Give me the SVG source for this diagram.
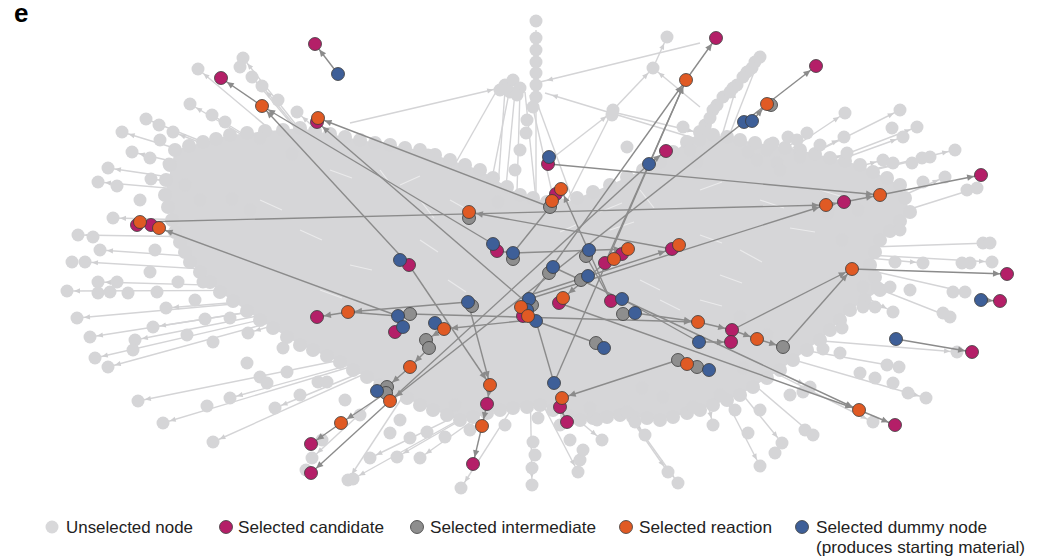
<svg xmlns="http://www.w3.org/2000/svg" width="1037" height="560" viewBox="0 0 1037 560">
<defs>
<style>
.gl line{stroke:#d4d4d6;stroke-width:1.4;marker-end:url(#al)}
.gl line.na{marker-end:none}
.gn circle{fill:#d5d5d7}
.ws line{stroke:#ffffff;stroke-width:1.2;opacity:0.5}
.dl line{stroke:#8b8b8b;stroke-width:1.4;marker-end:url(#ad)}
.dl line.na{marker-end:none}
.n circle{stroke:#3b3b3b;stroke-width:0.8}
.cand{fill:#b41f68}
.int{fill:#8e8e8e}
.rea{fill:#e05a24}
.dum{fill:#3e5f98}
.uns{fill:#d8d8da}
.lg{font-family:"Liberation Sans",Arial,sans-serif;font-size:16.5px;fill:#222222}
</style>
<marker id="ad" viewBox="-8 -4 16 8" refX="7" refY="0" markerWidth="16" markerHeight="8" markerUnits="userSpaceOnUse" orient="auto"><path d="M-7,-3.2 L0,0 L-7,3.2 z" fill="#8b8b8b"/></marker>
<marker id="al" viewBox="-8 -4 16 8" refX="7" refY="0" markerWidth="16" markerHeight="8" markerUnits="userSpaceOnUse" orient="auto"><path d="M-6,-2.6 L0,0 L-6,2.6 z" fill="#cfcfd1"/></marker>
</defs>
<rect width="1037" height="560" fill="#ffffff"/>
<text x="14" y="22" font-family="Liberation Sans,Arial,sans-serif" font-size="26" font-weight="bold" fill="#000">e</text>

<g id="background-cloud">
<g class="gl">
<line x1="360" y1="205" x2="198" y2="69"/><line x1="360" y1="205" x2="243" y2="58"/><line x1="360" y1="205" x2="252" y2="77"/><line x1="360" y1="205" x2="262" y2="86"/><line x1="360" y1="205" x2="190" y2="104"/><line x1="360" y1="205" x2="212" y2="115"/><line x1="360" y1="205" x2="146" y2="119"/><line x1="360" y1="205" x2="173" y2="132"/><line x1="360" y1="205" x2="122" y2="132"/><line x1="360" y1="205" x2="132" y2="152"/><line x1="360" y1="205" x2="108" y2="168"/><line x1="360" y1="205" x2="98" y2="182"/><line x1="360" y1="205" x2="151" y2="179"/><line x1="360" y1="205" x2="260" y2="138"/><line x1="360" y1="205" x2="292" y2="154"/><line x1="400" y1="215" x2="232" y2="199"/><line x1="400" y1="215" x2="200" y2="200"/><line x1="400" y1="225" x2="113" y2="218"/><line x1="400" y1="240" x2="78" y2="235"/><line x1="400" y1="205" x2="297" y2="112"/>
<line x1="390" y1="290" x2="67" y2="291"/><line x1="390" y1="290" x2="98" y2="282"/><line x1="390" y1="290" x2="203" y2="282"/><line x1="390" y1="290" x2="77" y2="318"/><line x1="390" y1="290" x2="166" y2="308"/><line x1="390" y1="290" x2="90" y2="337"/><line x1="390" y1="290" x2="153" y2="327"/><line x1="390" y1="290" x2="95" y2="358"/><line x1="390" y1="290" x2="108" y2="367"/><line x1="390" y1="290" x2="135" y2="340"/><line x1="390" y1="290" x2="248" y2="333"/><line x1="390" y1="280" x2="85" y2="262"/><line x1="390" y1="270" x2="100" y2="250"/>
<line x1="440" y1="340" x2="138" y2="401"/><line x1="440" y1="340" x2="163" y2="423"/><line x1="440" y1="340" x2="213" y2="442"/><line x1="440" y1="340" x2="312" y2="458"/><line x1="440" y1="340" x2="348" y2="480"/><line x1="440" y1="340" x2="230" y2="398"/><line x1="440" y1="340" x2="275" y2="408"/>
<line x1="530" y1="380" x2="370" y2="458"/><line x1="530" y1="380" x2="353" y2="479"/><line x1="530" y1="380" x2="397" y2="457"/><line x1="530" y1="380" x2="420" y2="458"/><line x1="530" y1="380" x2="461" y2="488"/><line x1="530" y1="380" x2="532" y2="485"/><line x1="530" y1="380" x2="578" y2="472"/><line x1="530" y1="380" x2="602" y2="440"/><line x1="590" y1="360" x2="668" y2="472"/><line x1="590" y1="360" x2="678" y2="483"/><line x1="590" y1="360" x2="693" y2="407"/><line x1="590" y1="360" x2="645" y2="435"/>
<line x1="690" y1="330" x2="713" y2="425"/><line x1="690" y1="330" x2="760" y2="466"/><line x1="690" y1="330" x2="782" y2="443"/><line x1="690" y1="330" x2="813" y2="435"/><line x1="690" y1="330" x2="810" y2="387"/><line x1="690" y1="330" x2="873" y2="422"/><line x1="690" y1="330" x2="926" y2="398"/><line x1="690" y1="330" x2="899" y2="367"/><line x1="690" y1="330" x2="957" y2="352"/><line x1="690" y1="330" x2="842" y2="328"/>
<line x1="780" y1="250" x2="992" y2="262"/><line x1="780" y1="250" x2="923" y2="263"/><line x1="780" y1="250" x2="965" y2="292"/><line x1="780" y1="250" x2="890" y2="287"/><line x1="780" y1="250" x2="893" y2="312"/><line x1="780" y1="250" x2="950" y2="317"/><line x1="780" y1="250" x2="990" y2="243"/><line x1="780" y1="250" x2="977" y2="188"/><line x1="780" y1="250" x2="945" y2="177"/><line x1="780" y1="250" x2="858" y2="210"/>
<line x1="700" y1="210" x2="760" y2="57"/><line x1="700" y1="210" x2="737" y2="85"/><line x1="700" y1="210" x2="713" y2="110"/><line x1="680" y1="220" x2="700" y2="140"/><line x1="700" y1="210" x2="845" y2="113"/><line x1="700" y1="210" x2="900" y2="110"/><line x1="700" y1="210" x2="917" y2="127"/><line x1="700" y1="210" x2="903" y2="137"/><line x1="700" y1="210" x2="844" y2="137"/><line x1="700" y1="210" x2="807" y2="133"/><line x1="700" y1="210" x2="847" y2="153"/><line x1="700" y1="210" x2="955" y2="150"/><line x1="700" y1="210" x2="930" y2="157"/><line x1="700" y1="210" x2="883" y2="160"/>
<line x1="350" y1="123" x2="500" y2="88"/><line x1="700" y1="43" x2="540" y2="82"/><line x1="700" y1="140" x2="545" y2="93"/><line x1="613" y1="110" x2="653" y2="68"/><line x1="700" y1="107" x2="653" y2="68"/><line x1="653" y1="68" x2="667" y2="37"/><line x1="617" y1="113" x2="700" y2="133"/><line x1="550" y1="160" x2="612" y2="112"/>
<line class="na" x1="510" y1="88" x2="470" y2="290"/><line class="na" x1="505" y1="90" x2="490" y2="300"/><line class="na" x1="515" y1="92" x2="500" y2="250"/><line class="na" x1="520" y1="90" x2="515" y2="260"/><line class="na" x1="525" y1="92" x2="540" y2="240"/><line class="na" x1="530" y1="95" x2="565" y2="250"/><line class="na" x1="536" y1="30" x2="536" y2="230"/><line class="na" x1="497" y1="90" x2="450" y2="173"/><line class="na" x1="428" y1="155" x2="470" y2="230"/><line class="na" x1="536" y1="100" x2="580" y2="220"/><line class="na" x1="613" y1="110" x2="560" y2="215"/>
</g>
<path d="M175,150 L230,135 L300,128 L360,140 L420,150 L480,170 L520,195 L560,205 L610,185 L660,162 L700,132 L740,140 L800,150 L860,165 L900,185 L910,212 L880,240 L870,265 L880,290 L850,310 L820,340 L780,370 L740,395 L700,410 L660,420 L620,415 L580,420 L540,405 L500,410 L460,420 L420,405 L380,385 L340,362 L300,345 L260,320 L220,292 L190,262 L175,232 L165,195 Z" fill="#d6d6d8"/>
<g class="gn">
<circle cx="175" cy="150" r="7"/><circle cx="189" cy="146" r="7"/><circle cx="203" cy="142" r="7"/><circle cx="216" cy="139" r="7"/><circle cx="230" cy="135" r="7"/><circle cx="247" cy="133" r="7"/><circle cx="265" cy="131" r="7"/><circle cx="283" cy="130" r="7"/><circle cx="300" cy="128" r="7"/><circle cx="315" cy="131" r="7"/><circle cx="330" cy="134" r="7"/><circle cx="345" cy="137" r="7"/><circle cx="360" cy="140" r="7"/><circle cx="375" cy="143" r="7"/><circle cx="390" cy="145" r="7"/><circle cx="405" cy="148" r="7"/><circle cx="420" cy="150" r="7"/><circle cx="435" cy="155" r="7"/><circle cx="450" cy="160" r="7"/><circle cx="465" cy="165" r="7"/><circle cx="480" cy="170" r="7"/><circle cx="493" cy="178" r="7"/><circle cx="507" cy="187" r="7"/><circle cx="520" cy="195" r="7"/><circle cx="533" cy="198" r="7"/><circle cx="547" cy="202" r="7"/><circle cx="560" cy="205" r="7"/><circle cx="577" cy="198" r="7"/><circle cx="593" cy="192" r="7"/><circle cx="610" cy="185" r="7"/><circle cx="627" cy="177" r="7"/><circle cx="643" cy="170" r="7"/><circle cx="660" cy="162" r="7"/><circle cx="673" cy="152" r="7"/><circle cx="687" cy="142" r="7"/><circle cx="700" cy="132" r="7"/><circle cx="713" cy="135" r="7"/><circle cx="727" cy="137" r="7"/><circle cx="740" cy="140" r="7"/><circle cx="755" cy="143" r="7"/><circle cx="770" cy="145" r="7"/><circle cx="785" cy="148" r="7"/><circle cx="800" cy="150" r="7"/><circle cx="815" cy="154" r="7"/><circle cx="830" cy="158" r="7"/><circle cx="845" cy="161" r="7"/><circle cx="860" cy="165" r="7"/><circle cx="873" cy="172" r="7"/><circle cx="887" cy="178" r="7"/><circle cx="900" cy="185" r="7"/><circle cx="905" cy="198" r="7"/><circle cx="910" cy="212" r="7"/><circle cx="900" cy="221" r="7"/><circle cx="890" cy="231" r="7"/><circle cx="880" cy="240" r="7"/><circle cx="875" cy="252" r="7"/><circle cx="870" cy="265" r="7"/><circle cx="875" cy="277" r="7"/><circle cx="880" cy="290" r="7"/><circle cx="865" cy="300" r="7"/><circle cx="850" cy="310" r="7"/><circle cx="840" cy="320" r="7"/><circle cx="830" cy="330" r="7"/><circle cx="820" cy="340" r="7"/><circle cx="807" cy="350" r="7"/><circle cx="793" cy="360" r="7"/><circle cx="780" cy="370" r="7"/><circle cx="767" cy="378" r="7"/><circle cx="753" cy="387" r="7"/><circle cx="740" cy="395" r="7"/><circle cx="727" cy="400" r="7"/><circle cx="713" cy="405" r="7"/><circle cx="700" cy="410" r="7"/><circle cx="687" cy="413" r="7"/><circle cx="673" cy="417" r="7"/><circle cx="660" cy="420" r="7"/><circle cx="647" cy="418" r="7"/><circle cx="633" cy="417" r="7"/><circle cx="620" cy="415" r="7"/><circle cx="607" cy="417" r="7"/><circle cx="593" cy="418" r="7"/><circle cx="580" cy="420" r="7"/><circle cx="567" cy="415" r="7"/><circle cx="553" cy="410" r="7"/><circle cx="540" cy="405" r="7"/><circle cx="527" cy="407" r="7"/><circle cx="513" cy="408" r="7"/><circle cx="500" cy="410" r="7"/><circle cx="487" cy="413" r="7"/><circle cx="473" cy="417" r="7"/><circle cx="460" cy="420" r="7"/><circle cx="447" cy="415" r="7"/><circle cx="433" cy="410" r="7"/><circle cx="420" cy="405" r="7"/><circle cx="407" cy="398" r="7"/><circle cx="393" cy="392" r="7"/><circle cx="380" cy="385" r="7"/><circle cx="367" cy="377" r="7"/><circle cx="353" cy="370" r="7"/><circle cx="340" cy="362" r="7"/><circle cx="327" cy="356" r="7"/><circle cx="313" cy="350" r="7"/><circle cx="300" cy="345" r="7"/><circle cx="287" cy="337" r="7"/><circle cx="273" cy="328" r="7"/><circle cx="260" cy="320" r="7"/><circle cx="247" cy="311" r="7"/><circle cx="233" cy="301" r="7"/><circle cx="220" cy="292" r="7"/><circle cx="210" cy="282" r="7"/><circle cx="200" cy="272" r="7"/><circle cx="190" cy="262" r="7"/><circle cx="185" cy="252" r="7"/><circle cx="180" cy="242" r="7"/><circle cx="175" cy="232" r="7"/><circle cx="172" cy="220" r="7"/><circle cx="168" cy="207" r="7"/><circle cx="165" cy="195" r="7"/><circle cx="166" cy="180" r="7"/><circle cx="170" cy="165" r="7"/>
</g>
<g class="gn">
<circle cx="198" cy="69" r="6.5"/><circle cx="243" cy="58" r="6.5"/><circle cx="240" cy="67" r="6.5"/><circle cx="252" cy="77" r="6.5"/><circle cx="262" cy="86" r="6.5"/><circle cx="190" cy="104" r="6.5"/><circle cx="212" cy="115" r="6.5"/><circle cx="146" cy="119" r="6.5"/><circle cx="159" cy="125" r="6.5"/><circle cx="173" cy="132" r="6.5"/><circle cx="122" cy="132" r="6.5"/><circle cx="132" cy="152" r="6.5"/><circle cx="108" cy="168" r="6.5"/><circle cx="98" cy="182" r="6.5"/><circle cx="117" cy="186" r="6.5"/><circle cx="151" cy="179" r="6.5"/><circle cx="169" cy="164" r="6.5"/><circle cx="260" cy="138" r="6.5"/><circle cx="292" cy="154" r="6.5"/><circle cx="232" cy="199" r="6.5"/><circle cx="250" cy="210" r="6.5"/><circle cx="200" cy="200" r="6.5"/><circle cx="113" cy="218" r="6.5"/><circle cx="78" cy="235" r="6.5"/><circle cx="93" cy="237" r="6.5"/><circle cx="297" cy="112" r="6.5"/>
<circle cx="160" cy="140" r="6.5"/><circle cx="150" cy="158" r="6.5"/><circle cx="140" cy="200" r="6.5"/><circle cx="155" cy="250" r="6.5"/><circle cx="150" cy="272" r="6.5"/><circle cx="185" cy="185" r="6.5"/><circle cx="278" cy="100" r="6.5"/><circle cx="225" cy="122" r="6.5"/>
<circle cx="67" cy="291" r="6.5"/><circle cx="98" cy="282" r="6.5"/><circle cx="117" cy="282" r="6.5"/><circle cx="98" cy="293" r="6.5"/><circle cx="110" cy="292" r="6.5"/><circle cx="128" cy="293" r="6.5"/><circle cx="157" cy="292" r="6.5"/><circle cx="178" cy="282" r="6.5"/><circle cx="203" cy="282" r="6.5"/><circle cx="77" cy="318" r="6.5"/><circle cx="166" cy="308" r="6.5"/><circle cx="90" cy="337" r="6.5"/><circle cx="153" cy="327" r="6.5"/><circle cx="135" cy="340" r="6.5"/><circle cx="133" cy="350" r="6.5"/><circle cx="95" cy="358" r="6.5"/><circle cx="108" cy="367" r="6.5"/><circle cx="187" cy="335" r="6.5"/><circle cx="205" cy="319" r="6.5"/><circle cx="213" cy="342" r="6.5"/><circle cx="247" cy="363" r="6.5"/><circle cx="248" cy="333" r="6.5"/><circle cx="85" cy="262" r="6.5"/><circle cx="100" cy="250" r="6.5"/><circle cx="72" cy="262" r="6.5"/><circle cx="230" cy="318" r="6.5"/><circle cx="195" cy="300" r="6.5"/>
<circle cx="138" cy="401" r="6.5"/><circle cx="207" cy="406" r="6.5"/><circle cx="230" cy="398" r="6.5"/><circle cx="163" cy="423" r="6.5"/><circle cx="213" cy="442" r="6.5"/><circle cx="275" cy="408" r="6.5"/><circle cx="260" cy="377" r="6.5"/><circle cx="267" cy="383" r="6.5"/><circle cx="287" cy="372" r="6.5"/><circle cx="283" cy="348" r="6.5"/><circle cx="318" cy="382" r="6.5"/><circle cx="327" cy="382" r="6.5"/><circle cx="312" cy="458" r="6.5"/><circle cx="348" cy="480" r="6.5"/><circle cx="306" cy="470" r="6.5"/><circle cx="322" cy="440" r="6.5"/><circle cx="300" cy="395" r="6.5"/><circle cx="345" cy="400" r="6.5"/><circle cx="360" cy="415" r="6.5"/>
<circle cx="370" cy="458" r="6.5"/><circle cx="353" cy="479" r="6.5"/><circle cx="397" cy="457" r="6.5"/><circle cx="420" cy="458" r="6.5"/><circle cx="410" cy="438" r="6.5"/><circle cx="390" cy="433" r="6.5"/><circle cx="427" cy="432" r="6.5"/><circle cx="445" cy="437" r="6.5"/><circle cx="461" cy="488" r="6.5"/><circle cx="532" cy="485" r="6.5"/><circle cx="532" cy="468" r="6.5"/><circle cx="533" cy="442" r="6.5"/><circle cx="538" cy="418" r="6.5"/><circle cx="570" cy="440" r="6.5"/><circle cx="578" cy="472" r="6.5"/><circle cx="580" cy="460" r="6.5"/><circle cx="583" cy="450" r="6.5"/><circle cx="602" cy="440" r="6.5"/><circle cx="597" cy="420" r="6.5"/><circle cx="627" cy="412" r="6.5"/><circle cx="635" cy="422" r="6.5"/><circle cx="645" cy="435" r="6.5"/><circle cx="668" cy="472" r="6.5"/><circle cx="678" cy="483" r="6.5"/><circle cx="642" cy="388" r="6.5"/><circle cx="663" cy="397" r="6.5"/><circle cx="693" cy="407" r="6.5"/><circle cx="470" cy="430" r="6.5"/><circle cx="455" cy="405" r="6.5"/><circle cx="505" cy="425" r="6.5"/><circle cx="560" cy="425" r="6.5"/><circle cx="590" cy="408" r="6.5"/><circle cx="535" cy="455" r="6.5"/><circle cx="400" cy="420" r="6.5"/>
<circle cx="713" cy="425" r="6.5"/><circle cx="748" cy="433" r="6.5"/><circle cx="760" cy="466" r="6.5"/><circle cx="775" cy="453" r="6.5"/><circle cx="782" cy="443" r="6.5"/><circle cx="805" cy="430" r="6.5"/><circle cx="813" cy="435" r="6.5"/><circle cx="803" cy="392" r="6.5"/><circle cx="810" cy="387" r="6.5"/><circle cx="873" cy="422" r="6.5"/><circle cx="926" cy="398" r="6.5"/><circle cx="908" cy="393" r="6.5"/><circle cx="893" cy="383" r="6.5"/><circle cx="875" cy="378" r="6.5"/><circle cx="860" cy="373" r="6.5"/><circle cx="887" cy="365" r="6.5"/><circle cx="899" cy="367" r="6.5"/><circle cx="840" cy="353" r="6.5"/><circle cx="823" cy="349" r="6.5"/><circle cx="957" cy="352" r="6.5"/><circle cx="842" cy="328" r="6.5"/><circle cx="743" cy="368" r="6.5"/><circle cx="767" cy="335" r="6.5"/><circle cx="740" cy="317" r="6.5"/><circle cx="720" cy="395" r="6.5"/><circle cx="760" cy="410" r="6.5"/><circle cx="735" cy="410" r="6.5"/><circle cx="790" cy="395" r="6.5"/>
<circle cx="992" cy="262" r="6.5"/><circle cx="970" cy="263" r="6.5"/><circle cx="962" cy="263" r="6.5"/><circle cx="923" cy="263" r="6.5"/><circle cx="953" cy="292" r="6.5"/><circle cx="965" cy="292" r="6.5"/><circle cx="890" cy="287" r="6.5"/><circle cx="877" cy="287" r="6.5"/><circle cx="863" cy="287" r="6.5"/><circle cx="863" cy="307" r="6.5"/><circle cx="875" cy="307" r="6.5"/><circle cx="893" cy="312" r="6.5"/><circle cx="950" cy="317" r="6.5"/><circle cx="943" cy="313" r="6.5"/><circle cx="983" cy="243" r="6.5"/><circle cx="990" cy="243" r="6.5"/><circle cx="967" cy="190" r="6.5"/><circle cx="977" cy="188" r="6.5"/><circle cx="923" cy="182" r="6.5"/><circle cx="945" cy="177" r="6.5"/><circle cx="858" cy="210" r="6.5"/><circle cx="828" cy="213" r="6.5"/><circle cx="842" cy="240" r="6.5"/><circle cx="900" cy="230" r="6.5"/><circle cx="895" cy="262" r="6.5"/><circle cx="910" cy="290" r="6.5"/>
<circle cx="760" cy="57" r="6.5"/><circle cx="755" cy="62" r="6.5"/><circle cx="752" cy="68" r="6.5"/><circle cx="747" cy="72" r="6.5"/><circle cx="743" cy="77" r="6.5"/><circle cx="737" cy="85" r="6.5"/><circle cx="733" cy="88" r="6.5"/><circle cx="723" cy="97" r="6.5"/><circle cx="717" cy="105" r="6.5"/><circle cx="713" cy="110" r="6.5"/><circle cx="705" cy="125" r="6.5"/><circle cx="703" cy="132" r="6.5"/><circle cx="700" cy="140" r="6.5"/><circle cx="845" cy="113" r="6.5"/><circle cx="900" cy="110" r="6.5"/><circle cx="917" cy="127" r="6.5"/><circle cx="892" cy="128" r="6.5"/><circle cx="903" cy="137" r="6.5"/><circle cx="844" cy="137" r="6.5"/><circle cx="807" cy="133" r="6.5"/><circle cx="788" cy="137" r="6.5"/><circle cx="797" cy="140" r="6.5"/><circle cx="773" cy="143" r="6.5"/><circle cx="767" cy="150" r="6.5"/><circle cx="748" cy="152" r="6.5"/><circle cx="847" cy="153" r="6.5"/><circle cx="800" cy="157" r="6.5"/><circle cx="955" cy="150" r="6.5"/><circle cx="930" cy="157" r="6.5"/><circle cx="922" cy="158" r="6.5"/><circle cx="912" cy="163" r="6.5"/><circle cx="883" cy="160" r="6.5"/><circle cx="893" cy="163" r="6.5"/><circle cx="777" cy="163" r="6.5"/><circle cx="780" cy="170" r="6.5"/><circle cx="757" cy="160" r="6.5"/><circle cx="697" cy="162" r="6.5"/><circle cx="710" cy="118" r="6.5"/><circle cx="730" cy="92" r="6.5"/><circle cx="690" cy="150" r="6.5"/><circle cx="820" cy="145" r="6.5"/>
<circle cx="536" cy="21" r="6.5"/><circle cx="536" cy="38" r="6.5"/><circle cx="536" cy="50" r="6.5"/><circle cx="536" cy="62" r="6.5"/><circle cx="536" cy="73" r="6.5"/><circle cx="536" cy="85" r="6.5"/><circle cx="536" cy="97" r="6.5"/><circle cx="533" cy="107" r="6.5"/><circle cx="527" cy="120" r="6.5"/><circle cx="526" cy="133" r="6.5"/><circle cx="520" cy="150" r="6.5"/><circle cx="505" cy="85" r="6.5"/><circle cx="513" cy="80" r="6.5"/><circle cx="520" cy="88" r="6.5"/><circle cx="510" cy="92" r="6.5"/><circle cx="500" cy="90" r="6.5"/><circle cx="517" cy="95" r="6.5"/><circle cx="667" cy="37" r="6.5"/><circle cx="653" cy="68" r="6.5"/><circle cx="613" cy="110" r="6.5"/><circle cx="612" cy="115" r="6.5"/><circle cx="428" cy="155" r="6.5"/><circle cx="498" cy="202" r="6.5"/><circle cx="627" cy="147" r="6.5"/><circle cx="683" cy="127" r="6.5"/><circle cx="515" cy="170" r="6.5"/>
</g>
<g class="ws">
<line x1="330" y1="170" x2="352" y2="178"/><line x1="400" y1="185" x2="420" y2="176"/><line x1="450" y1="200" x2="468" y2="210"/><line x1="600" y1="212" x2="622" y2="203"/><line x1="700" y1="190" x2="722" y2="182"/><line x1="760" y1="200" x2="784" y2="208"/><line x1="300" y1="230" x2="322" y2="240"/><line x1="420" y1="240" x2="438" y2="252"/><line x1="610" y1="230" x2="634" y2="222"/><line x1="700" y1="235" x2="722" y2="243"/><line x1="790" y1="228" x2="815" y2="232"/><line x1="350" y1="265" x2="372" y2="270"/><line x1="640" y1="280" x2="660" y2="290"/><line x1="720" y1="275" x2="742" y2="283"/><line x1="448" y1="280" x2="466" y2="292"/><line x1="700" y1="300" x2="722" y2="306"/><line x1="260" y1="200" x2="282" y2="210"/><line x1="560" y1="232" x2="578" y2="224"/><line x1="420" y1="200" x2="434" y2="218"/><line x1="640" y1="190" x2="654" y2="208"/><line x1="740" y1="250" x2="762" y2="262"/><line x1="320" y1="290" x2="342" y2="298"/><line x1="660" y1="300" x2="680" y2="310"/><line x1="380" y1="170" x2="395" y2="190"/><line x1="820" y1="190" x2="840" y2="196"/>
</g>
</g>

<g id="connectors" class="dl">
<line x1="338" y1="74" x2="315" y2="44"/>
<line x1="262" y1="106" x2="221" y2="78"/>
<line x1="493" y1="244" x2="262" y2="106"/>
<line x1="409" y1="265" x2="262" y2="106"/>
<line x1="409" y1="265" x2="490" y2="385"/>
<line x1="468" y1="302" x2="490" y2="385"/>
<line x1="550" y1="207" x2="318" y2="118"/>
<line x1="527" y1="303" x2="317" y2="122"/>
<line x1="398" y1="316" x2="159" y2="228"/>
<line x1="140" y1="222" x2="826" y2="205"/>
<line x1="549" y1="164" x2="880" y2="195"/>
<line x1="826" y1="205" x2="844" y2="202"/>
<line x1="844" y1="202" x2="880" y2="195"/>
<line x1="880" y1="195" x2="981" y2="175"/>
<line x1="672" y1="249" x2="469" y2="212"/>
<line x1="686" y1="80" x2="716" y2="38"/>
<line x1="554" y1="383" x2="686" y2="80"/>
<line x1="529" y1="299" x2="686" y2="80"/>
<line x1="649" y1="164" x2="686" y2="80"/>
<line x1="649" y1="164" x2="666" y2="151"/>
<line x1="649" y1="164" x2="311" y2="473"/>
<line x1="752" y1="121" x2="767" y2="104"/>
<line x1="767" y1="104" x2="816" y2="66"/>
<line x1="767" y1="104" x2="390" y2="401"/>
<line x1="852" y1="269" x2="1007" y2="274"/>
<line x1="981" y1="300" x2="1000" y2="301"/>
<line x1="896" y1="339" x2="972" y2="352"/>
<line x1="732" y1="330" x2="852" y2="269"/>
<line x1="783" y1="347" x2="852" y2="269"/>
<line x1="635" y1="313" x2="698" y2="322"/>
<line x1="698" y1="322" x2="732" y2="330"/>
<line x1="732" y1="330" x2="757" y2="339"/>
<line x1="757" y1="339" x2="783" y2="347"/>
<line x1="699" y1="342" x2="731" y2="342"/>
<line x1="553" y1="267" x2="859" y2="410"/>
<line x1="559" y1="303" x2="859" y2="410"/>
<line x1="859" y1="410" x2="895" y2="425"/>
<line x1="611" y1="301" x2="561" y2="189"/>
<line class="na" x1="586" y1="256" x2="611" y2="301"/>
<line x1="513" y1="253" x2="628" y2="249"/>
<line x1="513" y1="253" x2="497" y2="251"/>
<line class="na" x1="550" y1="207" x2="513" y2="253"/>
<line x1="468" y1="302" x2="348" y2="312"/>
<line x1="348" y1="312" x2="317" y2="317"/>
<line class="na" x1="398" y1="316" x2="348" y2="312"/>
<line x1="410" y1="314" x2="698" y2="322"/>
<line x1="530" y1="320" x2="444" y2="329"/>
<line x1="444" y1="329" x2="426" y2="340"/>
<line x1="429" y1="348" x2="410" y2="367"/>
<line x1="410" y1="367" x2="387" y2="387"/>
<line x1="386" y1="393" x2="341" y2="423"/>
<line x1="341" y1="423" x2="311" y2="444"/>
<line class="na" x1="536" y1="321" x2="554" y2="383"/>
<line x1="678" y1="360" x2="562" y2="398"/>
<line x1="560" y1="407" x2="567" y2="422"/>
<line x1="490" y1="385" x2="487" y2="404"/>
<line x1="487" y1="404" x2="482" y2="426"/>
<line x1="482" y1="426" x2="473" y2="464"/>
<line x1="530" y1="295" x2="672" y2="249"/>
<line x1="529" y1="299" x2="826" y2="205"/>
<line class="na" x1="536" y1="321" x2="596" y2="343"/>
<line class="na" x1="622" y1="299" x2="699" y2="342"/>
<line x1="605" y1="263" x2="563" y2="298"/>
<line class="na" x1="605" y1="263" x2="649" y2="164"/>
</g>

<g id="nodes">
<g id="i1" class="n"><circle class="int" cx="771" cy="105" r="6.5"/></g>
<g id="i2" class="n"><circle class="int" cx="550" cy="207" r="6.5"/></g>
<g id="i3" class="n"><circle class="int" cx="469" cy="218" r="6.5"/></g>
<g id="i4" class="n"><circle class="int" cx="513" cy="259" r="6.5"/></g>
<g id="i5" class="n"><circle class="int" cx="586" cy="256" r="6.5"/></g>
<g id="i6" class="n"><circle class="int" cx="549" cy="273" r="6.5"/></g>
<g id="i7" class="n"><circle class="int" cx="581" cy="280" r="6.5"/></g>
<g id="i8" class="n"><circle class="int" cx="472" cy="306" r="6.5"/></g>
<g id="i9" class="n"><circle class="int" cx="410" cy="314" r="6.5"/></g>
<g id="i10" class="n"><circle class="int" cx="426" cy="340" r="6.5"/></g>
<g id="i11" class="n"><circle class="int" cx="429" cy="348" r="6.5"/></g>
<g id="i12" class="n"><circle class="int" cx="387" cy="387" r="6.5"/></g>
<g id="i13" class="n"><circle class="int" cx="386" cy="393" r="6.5"/></g>
<g id="i14" class="n"><circle class="int" cx="623" cy="314" r="6.5"/></g>
<g id="i15" class="n"><circle class="int" cx="596" cy="343" r="6.5"/></g>
<g id="i16" class="n"><circle class="int" cx="678" cy="360" r="6.5"/></g>
<g id="i17" class="n"><circle class="int" cx="697" cy="367" r="6.5"/></g>
<g id="i18" class="n"><circle class="int" cx="783" cy="347" r="6.5"/></g>
<g id="i19" class="n"><circle class="int" cx="532" cy="305" r="6.5"/></g>

<g id="m1" class="n"><circle class="cand" cx="315" cy="44" r="6.5"/></g>
<g id="m2" class="n"><circle class="cand" cx="221" cy="78" r="6.5"/></g>
<g id="m3" class="n"><circle class="cand" cx="317" cy="122" r="6.5"/></g>
<g id="m4" class="n"><circle class="cand" cx="137" cy="225" r="6.5"/></g>
<g id="m5" class="n"><circle class="cand" cx="151" cy="225" r="6.5"/></g>
<g id="m6" class="n"><circle class="cand" cx="317" cy="317" r="6.5"/></g>
<g id="m7" class="n"><circle class="cand" cx="311" cy="444" r="6.5"/></g>
<g id="m8" class="n"><circle class="cand" cx="311" cy="473" r="6.5"/></g>
<g id="m9" class="n"><circle class="cand" cx="395" cy="332" r="6.5"/></g>
<g id="m10" class="n"><circle class="cand" cx="409" cy="265" r="6.5"/></g>
<g id="m11" class="n"><circle class="cand" cx="497" cy="251" r="6.5"/></g>
<g id="m12" class="n"><circle class="cand" cx="548" cy="164" r="6.5"/></g>
<g id="m13" class="n"><circle class="cand" cx="556" cy="194" r="6.5"/></g>
<g id="m14" class="n"><circle class="cand" cx="605" cy="263" r="6.5"/></g>
<g id="m15" class="n"><circle class="cand" cx="622" cy="254" r="6.5"/></g>
<g id="m16" class="n"><circle class="cand" cx="672" cy="249" r="6.5"/></g>
<g id="m17" class="n"><circle class="cand" cx="666" cy="151" r="6.5"/></g>
<g id="m18" class="n"><circle class="cand" cx="716" cy="38" r="6.5"/></g>
<g id="m19" class="n"><circle class="cand" cx="816" cy="66" r="6.5"/></g>
<g id="m20" class="n"><circle class="cand" cx="844" cy="202" r="6.5"/></g>
<g id="m21" class="n"><circle class="cand" cx="981" cy="175" r="6.5"/></g>
<g id="m22" class="n"><circle class="cand" cx="1007" cy="274" r="6.5"/></g>
<g id="m23" class="n"><circle class="cand" cx="1000" cy="301" r="6.5"/></g>
<g id="m24" class="n"><circle class="cand" cx="972" cy="352" r="6.5"/></g>
<g id="m25" class="n"><circle class="cand" cx="895" cy="425" r="6.5"/></g>
<g id="m26" class="n"><circle class="cand" cx="732" cy="330" r="6.5"/></g>
<g id="m27" class="n"><circle class="cand" cx="731" cy="342" r="6.5"/></g>
<g id="m28" class="n"><circle class="cand" cx="611" cy="301" r="6.5"/></g>
<g id="m29" class="n"><circle class="cand" cx="559" cy="303" r="6.5"/></g>
<g id="m30" class="n"><circle class="cand" cx="523" cy="316" r="6.5"/></g>
<g id="m31" class="n"><circle class="cand" cx="487" cy="404" r="6.5"/></g>
<g id="m32" class="n"><circle class="cand" cx="473" cy="464" r="6.5"/></g>
<g id="m33" class="n"><circle class="cand" cx="560" cy="407" r="6.5"/></g>
<g id="m34" class="n"><circle class="cand" cx="567" cy="422" r="6.5"/></g>

<g id="d1" class="n"><circle class="dum" cx="338" cy="74" r="6.5"/></g>
<g id="d2" class="n"><circle class="dum" cx="744" cy="122" r="6.5"/></g>
<g id="d3" class="n"><circle class="dum" cx="752" cy="121" r="6.5"/></g>
<g id="d4" class="n"><circle class="dum" cx="649" cy="164" r="6.5"/></g>
<g id="d5" class="n"><circle class="dum" cx="549" cy="157" r="6.5"/></g>
<g id="d6" class="n"><circle class="dum" cx="493" cy="244" r="6.5"/></g>
<g id="d7" class="n"><circle class="dum" cx="513" cy="253" r="6.5"/></g>
<g id="d8" class="n"><circle class="dum" cx="589" cy="250" r="6.5"/></g>
<g id="d9" class="n"><circle class="dum" cx="553" cy="267" r="6.5"/></g>
<g id="d10" class="n"><circle class="dum" cx="588" cy="276" r="6.5"/></g>
<g id="d11" class="n"><circle class="dum" cx="400" cy="260" r="6.5"/></g>
<g id="d12" class="n"><circle class="dum" cx="468" cy="302" r="6.5"/></g>
<g id="d13" class="n"><circle class="dum" cx="398" cy="316" r="6.5"/></g>
<g id="d14" class="n"><circle class="dum" cx="403" cy="327" r="6.5"/></g>
<g id="d15" class="n"><circle class="dum" cx="435" cy="323" r="6.5"/></g>
<g id="d16" class="n"><circle class="dum" cx="377" cy="391" r="6.5"/></g>
<g id="d17" class="n"><circle class="dum" cx="529" cy="299" r="6.5"/></g>
<g id="d18" class="n"><circle class="dum" cx="527" cy="310" r="6.5"/></g>
<g id="d19" class="n"><circle class="dum" cx="536" cy="321" r="6.5"/></g>
<g id="d20" class="n"><circle class="dum" cx="622" cy="299" r="6.5"/></g>
<g id="d21" class="n"><circle class="dum" cx="635" cy="313" r="6.5"/></g>
<g id="d22" class="n"><circle class="dum" cx="604" cy="348" r="6.5"/></g>
<g id="d23" class="n"><circle class="dum" cx="554" cy="383" r="6.5"/></g>
<g id="d24" class="n"><circle class="dum" cx="699" cy="342" r="6.5"/></g>
<g id="d25" class="n"><circle class="dum" cx="709" cy="370" r="6.5"/></g>
<g id="d26" class="n"><circle class="dum" cx="896" cy="339" r="6.5"/></g>
<g id="d27" class="n"><circle class="dum" cx="981" cy="300" r="6.5"/></g>

<g id="r1" class="n"><circle class="rea" cx="262" cy="106" r="6.5"/></g>
<g id="r2" class="n"><circle class="rea" cx="318" cy="118" r="6.5"/></g>
<g id="r3" class="n"><circle class="rea" cx="140" cy="222" r="6.5"/></g>
<g id="r4" class="n"><circle class="rea" cx="159" cy="228" r="6.5"/></g>
<g id="r5" class="n"><circle class="rea" cx="348" cy="312" r="6.5"/></g>
<g id="r6" class="n"><circle class="rea" cx="444" cy="329" r="6.5"/></g>
<g id="r7" class="n"><circle class="rea" cx="410" cy="367" r="6.5"/></g>
<g id="r8" class="n"><circle class="rea" cx="390" cy="401" r="6.5"/></g>
<g id="r9" class="n"><circle class="rea" cx="341" cy="423" r="6.5"/></g>
<g id="r10" class="n"><circle class="rea" cx="469" cy="212" r="6.5"/></g>
<g id="r11" class="n"><circle class="rea" cx="561" cy="189" r="6.5"/></g>
<g id="r12" class="n"><circle class="rea" cx="552" cy="201" r="6.5"/></g>
<g id="r13" class="n"><circle class="rea" cx="614" cy="259" r="6.5"/></g>
<g id="r14" class="n"><circle class="rea" cx="628" cy="249" r="6.5"/></g>
<g id="r15" class="n"><circle class="rea" cx="679" cy="245" r="6.5"/></g>
<g id="r16" class="n"><circle class="rea" cx="686" cy="80" r="6.5"/></g>
<g id="r17" class="n"><circle class="rea" cx="767" cy="104" r="6.5"/></g>
<g id="r18" class="n"><circle class="rea" cx="826" cy="205" r="6.5"/></g>
<g id="r19" class="n"><circle class="rea" cx="880" cy="195" r="6.5"/></g>
<g id="r20" class="n"><circle class="rea" cx="852" cy="269" r="6.5"/></g>
<g id="r21" class="n"><circle class="rea" cx="698" cy="322" r="6.5"/></g>
<g id="r22" class="n"><circle class="rea" cx="757" cy="339" r="6.5"/></g>
<g id="r23" class="n"><circle class="rea" cx="687" cy="364" r="6.5"/></g>
<g id="r24" class="n"><circle class="rea" cx="859" cy="410" r="6.5"/></g>
<g id="r25" class="n"><circle class="rea" cx="490" cy="385" r="6.5"/></g>
<g id="r26" class="n"><circle class="rea" cx="482" cy="426" r="6.5"/></g>
<g id="r27" class="n"><circle class="rea" cx="562" cy="398" r="6.5"/></g>
<g id="r28" class="n"><circle class="rea" cx="521" cy="307" r="6.5"/></g>
<g id="r29" class="n"><circle class="rea" cx="528" cy="316" r="6.5"/></g>
<g id="r30" class="n"><circle class="rea" cx="563" cy="298" r="6.5"/></g>
</g>

<g id="legend">
<g id="lg-uns"><circle class="uns" cx="52" cy="527" r="6.5"/><text class="lg" x="66" y="533" textLength="127" lengthAdjust="spacingAndGlyphs">Unselected node</text></g>
<g id="lg-cand" class="n"><circle class="cand" cx="226" cy="527" r="6.5"/><text class="lg" x="238" y="533" textLength="146" lengthAdjust="spacingAndGlyphs">Selected candidate</text></g>
<g id="lg-int" class="n"><circle class="int" cx="417" cy="527" r="6.5"/><text class="lg" x="430" y="533" textLength="166" lengthAdjust="spacingAndGlyphs">Selected intermediate</text></g>
<g id="lg-rea" class="n"><circle class="rea" cx="626" cy="527" r="6.5"/><text class="lg" x="639" y="533" textLength="133" lengthAdjust="spacingAndGlyphs">Selected reaction</text></g>
<g id="lg-dum" class="n"><circle class="dum" cx="802" cy="527" r="6.5"/><text class="lg" x="816" y="533" textLength="171" lengthAdjust="spacingAndGlyphs">Selected dummy node</text><text class="lg" x="816" y="553" textLength="209" lengthAdjust="spacingAndGlyphs">(produces starting material)</text></g>
</g>
</svg>
